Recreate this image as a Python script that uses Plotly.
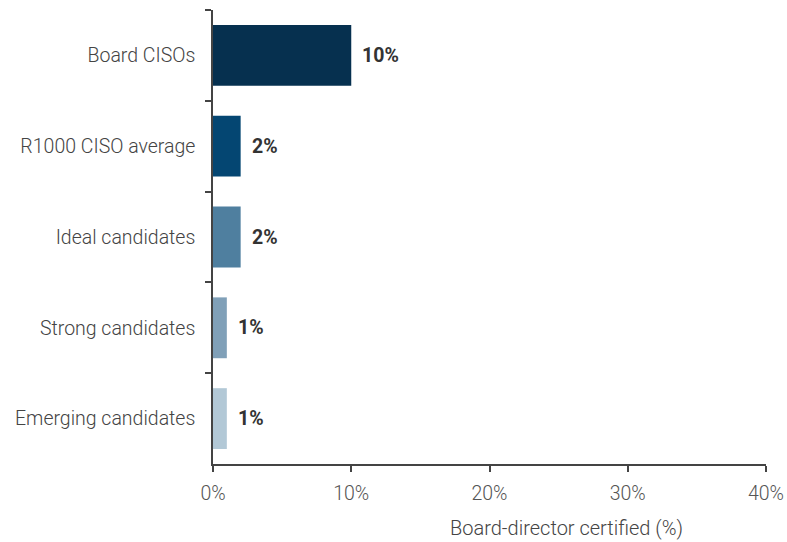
import plotly.graph_objects as go

categories = ["Board CISOs", "R1000 CISO average", "Ideal candidates", "Strong candidates", "Emerging candidates"]
values = [10, 2, 2, 1, 1]
labels = ["10%", "2%", "2%", "1%", "1%"]
colors = ["#06304F", "#044672", "#4F7F9F", "#80A0B8", "#B2C8D6"]
x_ticks = [0, 10, 20, 30, 40]
x_tick_text = ["0%", "10%", "20%", "30%", "40%"]
x_title = "Board-director certified (%)"

LIGHT = "Roboto Light, Roboto"

fig = go.Figure(go.Bar(
    y=categories, x=values, orientation="h",
    marker=dict(color=colors, line=dict(width=0)),
    width=0.67,
))

for c, v, t in zip(categories, values, labels):
    fig.add_annotation(
        x=v, y=c, text=t, showarrow=False, xanchor="left", xshift=9,
        font=dict(family="Roboto", size=19.5, color="#333333", weight="bold"),
    )

fig.add_annotation(
    xref="paper", yref="paper", x=0.64, y=-0.142, text=x_title,
    showarrow=False, xanchor="center", yanchor="middle",
    font=dict(family=LIGHT, size=20, color="#444444", weight=300),
)

fig.update_layout(
    width=787, height=542,
    margin=dict(l=213, r=21, t=10, b=78, autoexpand=False),
    plot_bgcolor="white", paper_bgcolor="white",
    showlegend=False,
    font=dict(family=LIGHT, size=19.5, color="#444444", weight=300),
    xaxis=dict(
        range=[0, 40], tickvals=x_ticks, ticktext=x_tick_text,
        showgrid=False, zeroline=False, automargin=False,
        showline=True, linecolor="#444444", linewidth=1.5,
        ticks="outside", ticklen=6, tickcolor="#444444", tickwidth=1.5,
        ticklabelstandoff=5,
        tickfont=dict(family=LIGHT, size=19.5, color="#555555", weight=300),
    ),
    yaxis=dict(
        categoryorder="array", categoryarray=categories, autorange="reversed",
        showgrid=False, zeroline=False, automargin=False,
        showline=True, linecolor="#444444", linewidth=1.5,
        ticks="outside", ticklen=6, tickcolor="#444444", tickwidth=1.5,
        tickson="boundaries", ticklabelstandoff=12,
        tickfont=dict(family=LIGHT, size=19.5, color="#444444", weight=300),
    ),
    bargap=0.33,
)

fig.write_html("out.html")
